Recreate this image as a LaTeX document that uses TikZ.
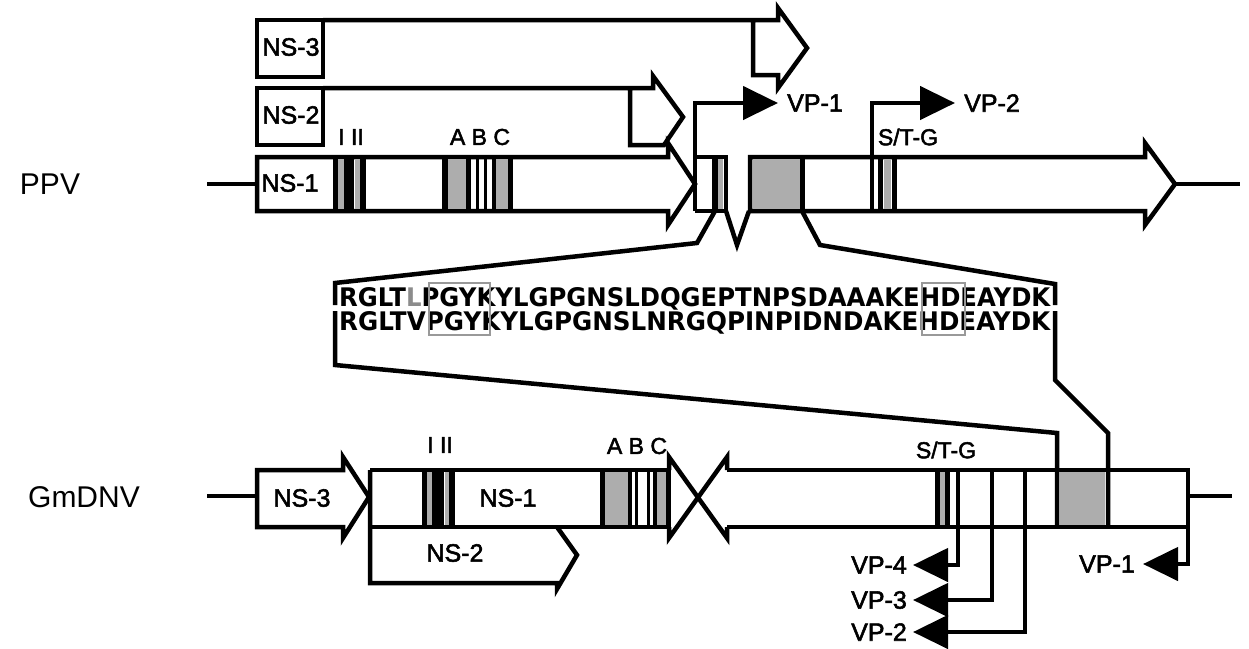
\documentclass[tikz,border=0pt]{standalone}
\usepackage{fontspec}
\setmainfont{Liberation Sans}
\newfontfamily\labfont[FakeBold=2.2]{Liberation Sans}
\newfontfamily\seqfont{DejaVu Sans}
\usetikzlibrary{arrows.meta}
\definecolor{exgray}{gray}{0.68}
\definecolor{boxline}{gray}{0.6}
\definecolor{lgr}{gray}{0.55}
\begin{document}
\begin{tikzpicture}[x=1pt,y=-1pt,
  ln/.style={line width=4.5pt, line join=miter, miter limit=10},
  axis/.style={line width=4pt},
  lab/.style={font=\labfont\fontsize{25}{25}\selectfont, inner sep=0pt},
  sml/.style={font=\labfont\fontsize{23}{23}\selectfont, inner sep=0pt},
  big/.style={font=\fontsize{30}{30}\selectfont, inner sep=0pt},
  vpa/.style={ln, -{Triangle[length=35pt,width=33pt]}},
  seqrow/.style={anchor=base west, inner sep=0pt, font=\seqfont\bfseries},
  seqbox/.style={draw=boxline, line width=1.2pt},
]
\fill[white] (0,0) rectangle (1249,648);

% ---------------- PPV ----------------
\node[big] (ppv) at (50,184) {PPV};
\coordinate (ppvL) at (207,184);
\coordinate (ppvS) at (257,184);
\draw[axis] (ppvL) -- (ppvS);
\coordinate (ppvT) at (1175,184);
\coordinate (ppvR) at (1240,184);
\draw[axis] (ppvT) -- (ppvR);

% NS-3
\draw[ln] (257,20) rectangle (323,77);
\draw[ln] (323,20) -- (778,20) -- (778,8) -- (807,48) -- (778,88) -- (778,75) -- (753,75) -- (753,20);
\node[lab] (ns3p) at (291,47) {NS-3};
% NS-2
\draw[ln] (257,88) rectangle (323,145);
\draw[ln] (323,88) -- (653,88) -- (653,76) -- (683,117) -- (664,145) -- (630,145) -- (630,88);
\node[lab] (ns2p) at (291,115) {NS-2};
% NS-1
\draw[ln] (257,157) -- (668,157) -- (668,143) -- (695,184) -- (668,225) -- (668,211) -- (257,211) -- cycle;
\node[lab] (ns1p) at (290,183) {NS-1};
% I II bars
\fill (333,157) rectangle (338,211);
\fill[exgray] (338,159) rectangle (344,209);
\fill (344,157) rectangle (354,211);
\fill[exgray] (355,159) rectangle (360,209);
\fill (360,157) rectangle (366,211);
\node[sml] (i2p) at (351,137) {I II};
% A B C bars
\fill (442,157) rectangle (448,211);
\fill[exgray] (448,159) rectangle (466,209);
\fill (466,157) rectangle (471,211);
\fill (476,157) rectangle (479,211);
\fill (484,157) rectangle (487,211);
\fill (492,157) rectangle (496,211);
\fill[exgray] (496,159) rectangle (508,209);
\fill (508,157) rectangle (513,211);
\node[sml] (abcp) at (480,137) {A B C};

% small exon with VP-1 start
\draw[ln] (695,157) -- (726,157) -- (726,211) -- (695,211);
\fill (712,157) rectangle (718,211);
\fill[exgray] (718,159) rectangle (723,209);
\draw[ln] (726,211) -- (737,245) -- (749,211);
\node[lab, anchor=west, inner xsep=9pt] (vp1p) at (778,103) {VP-1};
\draw[vpa] (695,211) -- (695,103) -- (vp1p.west);

% main VP block
\draw[ln] (750,211) -- (750,157) -- (1145,157) -- (1145,143) -- (1175,184) -- (1145,225) -- (1145,211) -- cycle;
\fill[exgray] (753,159) rectangle (800,209);
\fill (800,157) rectangle (805,211);
% S/T-G
\fill (878,157) rectangle (883,211);
\fill[exgray] (884,159) rectangle (891,209);
\fill (892,157) rectangle (897,211);
\node[sml] (stgp) at (908,137) {S/T-G};
\node[lab, anchor=west, inner xsep=9pt] (vp2p) at (955,103) {VP-2};
\draw[vpa] (872,211) -- (872,103) -- (vp2p.west);

% ---------------- sequence ----------------
\node[seqrow] (seq1) at (339,306.5) {\resizebox{711pt}{19pt}{RGLT\textcolor{lgr}{L}PGYKYLGPGNSLDQGEPTNPSDAAAKEHDEAYDK}};
\node[seqrow] (seq2) at (339,330.5) {\resizebox{711pt}{19pt}{RGLTVPGYKYLGPGNSLNRGQPINPIDNDAKEHDEAYDK}};
\draw[seqbox] (429,283) rectangle (490,335);
\draw[seqbox] (922,283) rectangle (965,335);

% expansion lines
\draw[ln] (715,211) -- (697,243) -- (335,283) -- (335,305);
\draw[ln] (802,211) -- (820,245) -- (1055,284) -- (1055,305);
\draw[ln] (335,311) -- (335,365) -- (1057,433) -- (1057,527);
\draw[ln] (1055,311) -- (1055,380) -- (1108,433) -- (1108,527);

% ---------------- GmDNV ----------------
\node[big] (gm) at (84,497) {GmDNV};
\coordinate (gmL) at (207,496);
\coordinate (gmS) at (257,496);
\draw[axis] (gmL) -- (gmS);
\coordinate (gmE) at (1188,496);
\coordinate (gmR) at (1232,496);
\draw[axis] (gmE) -- (gmR);

% NS-3
\draw[ln] (257,470) -- (343,470) -- (343,457) -- (369,497) -- (343,538) -- (343,527) -- (257,527) -- cycle;
\node[lab] (ns3g) at (302,498) {NS-3};
% NS-1 box
\draw[ln] (370,470) -- (669,470);
\draw[ln] (370,527) -- (669,527);
% NS-2
\draw[ln] (370,470) -- (370,583) -- (557,583) -- (557,589) -- (577,555) -- (557,527);
\node[lab] (ns2g) at (455,553) {NS-2};
\node[lab] (ns1g) at (508,498) {NS-1};
% X
\draw[ln] (669,470) -- (669,457) -- (727,538) -- (727,527);
\draw[ln] (669,527) -- (669,538) -- (727,457) -- (727,470);
% VP box
\draw[ln] (727,470) -- (1188,470) -- (1188,527) -- (727,527);
% I II bars
\fill (422,470) rectangle (427,527);
\fill[exgray] (427,472) rectangle (432,525);
\fill (432,470) rectangle (444,527);
\fill[exgray] (445,472) rectangle (449,525);
\fill (449,470) rectangle (455,527);
\node[sml] (i2g) at (440,445) {I II};
% A B C bars
\fill (600,470) rectangle (605,527);
\fill[exgray] (605,472) rectangle (628,525);
\fill (628,470) rectangle (632,527);
\fill (635,470) rectangle (638,527);
\fill (647,470) rectangle (650,527);
\fill (653,470) rectangle (657,527);
\fill[exgray] (657,472) rectangle (666,525);
\fill (666,470) rectangle (671,527);
\node[sml] (abcg) at (637,446) {A B C};
% S/T-G
\fill (935,470) rectangle (940,527);
\fill[exgray] (940,472) rectangle (945,525);
\fill (945,470) rectangle (950,527);
\node[sml] (stgg) at (946,450) {S/T-G};
% gray exon
\fill[exgray] (1060,472) rectangle (1105,525);

% VP arrows
\node[lab, anchor=east, inner xsep=6pt] (vp4g) at (913,565) {VP-4};
\node[lab, anchor=east, inner xsep=6pt] (vp3g) at (913,600) {VP-3};
\node[lab, anchor=east, inner xsep=6pt] (vp2g) at (913,632) {VP-2};
\node[lab, anchor=east, inner xsep=8pt] (vp1g) at (1143,564) {VP-1};
\draw[vpa] (958,470) -- (958,565) -- (vp4g.east);
\draw[vpa] (992,470) -- (992,600) -- (vp3g.east);
\draw[vpa] (1025,470) -- (1025,632) -- (vp2g.east);
\draw[vpa] (1188,470) -- (1188,564) -- (vp1g.east);
\end{tikzpicture}
\end{document}
